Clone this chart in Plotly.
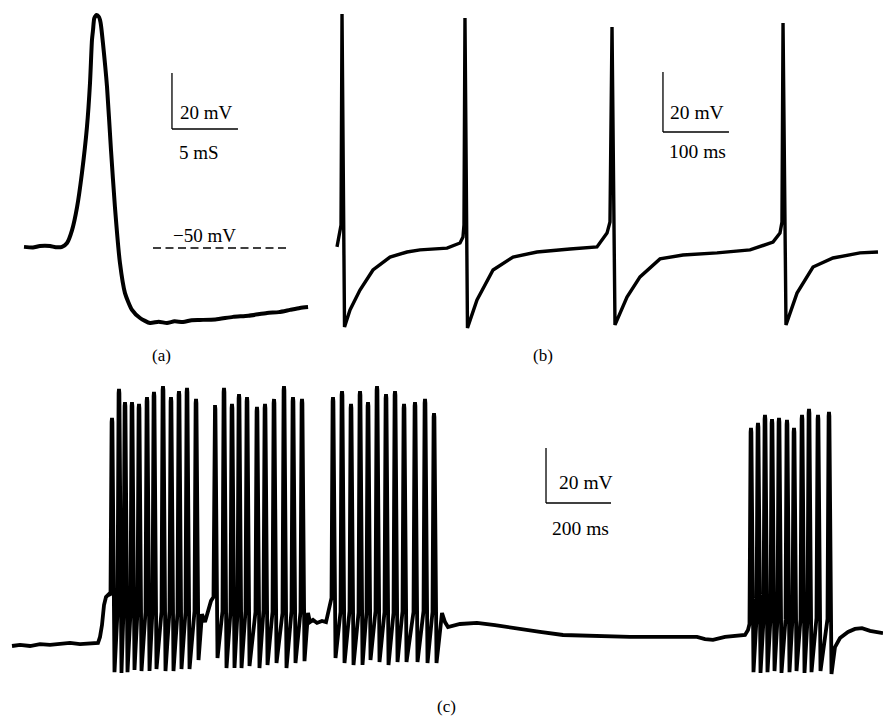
import plotly.graph_objects as go

W, H = 883, 719

# ---------------- Panel (a): single action potential (ms, mV) ----------------
a_time = [0, 0.68, 1.2, 1.97, 2.4, 2.88, 3.26, 3.64, 4.02, 4.39, 4.77, 5.0, 5.15, 5.23,
          5.33, 5.51, 5.68, 5.76, 5.83, 5.98, 6.29, 6.59, 6.89, 7.27, 7.65, 8.18,
          8.79, 9.55, 10.2, 10.83, 11.4, 12.05, 12.7, 13.33, 14.5, 15.83, 17.0,
          18.41, 19.3, 20.15, 20.9, 21.52]
a_volt = [-49.6, -49.8, -49.3, -49.3, -49.7, -49.6, -48.2, -43.6, -35.4, -23.2, -6.8,
          8.9, 24.3, 27.9, 32.1, 33.2, 32.5, 31.4, 29.6, 23.2, 7.5, -15.0, -35.4,
          -55.4, -66.1, -72.1, -75.0, -76.8, -76.3, -76.8, -76.2, -76.4, -75.8,
          -75.7, -75.5, -74.6, -74.2, -73.2, -72.9, -72.1, -71.4, -71.1]

# ---------------- Panel (b): repetitive firing (ms, mV) ----------------
b_time = [0, 3.0, 6.1, 7.6, 11.4, 19.7, 34.8, 54.5, 80.3, 106.1, 125.8, 166.7, 186.4,
          190.9, 192.4, 193.9, 197.7, 212.1, 236.4, 266.7, 303.0, 353.0, 393.9,
          409.1, 413.6, 416.7, 421.2, 439.4, 459.1, 489.4, 524.2, 575.8, 625.8,
          660.6, 671.2, 674.2, 675.8, 680.3, 697.0, 721.2, 751.5, 792.4, 819.7]
b_volt = [-48.3, -44.7, -41.0, 29.3, -75.0, -69.3, -62.7, -56.0, -51.7, -50.0, -49.3,
          -48.7, -47.0, -45.0, -41.0, 28.0, -75.3, -66.0, -56.0, -51.7, -50.0, -49.0,
          -48.3, -43.7, -40.0, 25.0, -74.3, -65.0, -58.3, -52.3, -51.0, -50.3, -49.3,
          -46.7, -43.7, -40.0, 26.3, -74.3, -63.7, -55.0, -52.0, -50.3, -50.0]

# ---------------- Panel (c): bursting (ms, mV) ----------------
burst_times = [
    [307.7, 329.2, 347.7, 369.2, 390.8, 415.4, 436.9, 464.6, 489.2, 513.8, 538.5, 566.2],
    [624.6, 652.3, 676.9, 698.5, 723.1, 753.8, 778.5, 806.2, 836.9, 864.6, 892.3],
    [987.7, 1015.4, 1043.1, 1070.8, 1095.4, 1123.1, 1150.8, 1178.5, 1206.2, 1240.0, 1270.8, 1298.5],
    [2273.8, 2295.4, 2316.9, 2338.5, 2360.0, 2384.6, 2406.2, 2430.8, 2452.3, 2480.0, 2513.8],
]
burst_peaks = [
    [22.9, 33.5, 28.7, 28.7, 28.0, 30.5, 32.4, 34.5, 30.5, 32.7, 33.8, 29.8],
    [27.6, 33.8, 28.0, 31.6, 30.5, 26.9, 28.0, 29.8, 34.5, 30.5, 29.8],
    [30.5, 32.7, 28.0, 32.7, 28.7, 34.5, 31.6, 32.7, 28.0, 28.7, 29.8, 24.7],
    [19.3, 21.1, 24.0, 22.5, 22.9, 22.2, 19.3, 24.0, 26.2, 24.0, 25.1],
]
burst_troughs = [
    [-69.5, -69.8, -69.5, -68.7, -69.1, -69.1, -68.4, -69.1, -69.1, -68.4, -68.4, -65.1],
    [-64.4, -68.0, -68.0, -68.0, -67.3, -68.0, -66.9, -66.2, -68.0, -66.2, -65.5],
    [-64.4, -66.2, -66.9, -66.9, -65.1, -65.8, -66.9, -65.8, -65.8, -65.8, -66.2, -66.2],
    [-69.5, -69.8, -69.5, -69.1, -69.8, -69.5, -69.1, -69.8, -69.5, -69.1, -70.2],
]
burst_pre = [
    [-41.5, -47.6, -47.0, -48.0, -47.3, -47.6, -46.9, -47.6, -47.3, -48.0, -47.6, -47.3],
    [-42.2, -47.3, -47.6, -48.0, -47.3, -47.6, -46.9, -47.6, -48.0, -47.3, -47.6],
    [-42.5, -47.6, -47.3, -48.0, -47.6, -47.3, -47.6, -48.0, -47.3, -47.6, -47.3, -47.6],
    [-52.0, -50.2, -50.5, -49.8, -50.2, -50.5, -49.8, -50.2, -50.5, -49.8, -50.2],
]
seg_times = [
    [0, 24.6, 55.4, 86.2, 116.9, 147.7, 178.5, 209.2, 240.0, 264.6, 270.8, 276.9, 283.1, 289.2, 298.5],
    [584.6, 593.8, 603.1, 612.3],
    [910.8, 916.9, 926.2, 938.5, 953.8, 966.2, 975.4, 981.5],
    [1316.9, 1323.1, 1332.3, 1341.5, 1378.5, 1430.8, 1486.2, 1541.5, 1624.6, 1695.4, 1809.2,
     1901.5, 1993.8, 2107.7, 2132.3, 2156.9, 2193.8, 2255.4, 2264.6],
    [2532.3, 2547.7, 2572.3, 2593.8, 2615.4, 2640.0, 2661.5, 2680.0],
]
seg_volts = [
    [-60.0, -59.6, -60.0, -59.3, -59.6, -59.3, -58.9, -59.3, -58.9, -58.9, -56.7, -52.4, -45.1, -42.2, -41.1],
    [-48.4, -51.3, -47.6, -43.6],
    [-48.0, -51.3, -50.5, -51.6, -50.9, -51.3, -46.9, -43.3],
    [-52.4, -48.0, -51.3, -53.1, -52.0, -51.6, -52.4, -53.5, -54.9, -56.0, -56.4,
     -56.7, -56.7, -56.7, -57.5, -57.8, -56.7, -56.0, -54.2],
    [-60.4, -57.1, -54.9, -53.8, -53.5, -54.5, -54.9, -55.3],
]

# spike stroke shape (ms offsets of upstroke start / trough from peak)
RISE_MS, FALL_MS = 4.6, 7.7

c_time, c_volt = [], []
for k in range(5):
    c_time += seg_times[k]
    c_volt += seg_volts[k]
    if k < 4:
        for t, pk, tr, pre in zip(burst_times[k], burst_peaks[k], burst_troughs[k], burst_pre[k]):
            c_time += [t - RISE_MS, t - 1.2, t, t + 1.2, t + FALL_MS]
            c_volt += [pre, pk - 1.5, pk, pk - 1.5, tr]

# ---------------- panel geometry (pixels) ----------------
panels = {
    "a": dict(box=(0, 320, 0, 335), t0=24, sx=13.2, vref=-50, vpx=248, sy=2.8),
    "b": dict(box=(320, 883, 0, 335), t0=337, sx=0.66, vref=-75, vpx=327, sy=3.0),
    "c": dict(box=(0, 883, 375, 680), t0=12, sx=0.325, vref=-60, vpx=646, sy=2.75),
}


def ranges(p):
    x0, x1, y0, y1 = p["box"]
    xr = [(x0 - p["t0"]) / p["sx"], (x1 - p["t0"]) / p["sx"]]
    yr = [p["vref"] - (y1 - p["vpx"]) / p["sy"], p["vref"] - (y0 - p["vpx"]) / p["sy"]]
    dom_x = [x0 / W, x1 / W]
    dom_y = [1 - y1 / H, 1 - y0 / H]
    return xr, yr, dom_x, dom_y


fig = go.Figure()
line_w = {"a": 4.0, "b": 3.4, "c": 3.8}
shape_ = {"a": "spline", "b": "linear", "c": "linear"}
data = {"a": (a_time, a_volt), "b": (b_time, b_volt), "c": (c_time, c_volt)}
axnames = {"a": ("x", "y"), "b": ("x2", "y2"), "c": ("x3", "y3")}

for key in ["a", "b", "c"]:
    xs, ys = data[key]
    xa, ya = axnames[key]
    ln = dict(color="black", width=line_w[key], shape=shape_[key])
    if shape_[key] == "spline":
        ln["smoothing"] = 0.6
    fig.add_trace(go.Scatter(x=xs, y=ys, mode="lines", xaxis=xa, yaxis=ya,
                             line=ln, hoverinfo="skip", showlegend=False))

layout_axes = {}
for key, (xa, ya) in axnames.items():
    xr, yr, dx, dy = ranges(panels[key])
    xname = "xaxis" if xa == "x" else "xaxis" + xa[1:]
    yname = "yaxis" if ya == "y" else "yaxis" + ya[1:]
    layout_axes[xname] = dict(domain=dx, range=xr, visible=False, anchor=ya, fixedrange=True)
    layout_axes[yname] = dict(domain=dy, range=yr, visible=False, anchor=xa, fixedrange=True)

# scale bars: (panel, t_corner, v_bottom, dt, dv)
scale_bars = [("a", 11.21, -7.5, 5, 20), ("b", 493.9, -10, 100, 20), ("c", 1643.1, -8, 200, 20)]
shapes = []
for key, tc, vb, dt, dv in scale_bars:
    xa, ya = axnames[key]
    shapes.append(dict(type="line", xref=xa, yref=ya, x0=tc, x1=tc, y0=vb, y1=vb + dv,
                       line=dict(color="black", width=1.3)))
    shapes.append(dict(type="line", xref=xa, yref=ya, x0=tc, x1=tc + dt, y0=vb, y1=vb,
                       line=dict(color="black", width=1.3)))
# -50 mV reference line in panel (a)
shapes.append(dict(type="line", xref="x", yref="y", x0=(153 - 24) / 13.2, x1=(290 - 24) / 13.2,
                   y0=-50, y1=-50, line=dict(color="black", width=1.4, dash="8px,4.5px")))

SERIF = "Liberation Serif, Times New Roman, serif"
texts = [
    ("20 mV", 206, 113, 19), ("5 mS", 199, 153, 19), ("\u221250 mV", 204, 235, 19),
    ("20 mV", 697, 113, 19.5), ("100 ms", 697, 152, 19.5),
    ("20 mV", 586, 482, 19.5), ("200 ms", 580, 528, 19.5),
    ("(a)", 161, 356, 17), ("(b)", 543, 356, 17), ("(c)", 447, 706, 17),
]
annotations = [dict(text=t, x=px / W, y=1 - py / H, xref="paper", yref="paper",
                    xanchor="center", yanchor="middle", showarrow=False,
                    font=dict(family=SERIF, size=sz, color="black"))
               for t, px, py, sz in texts]

fig.update_layout(width=W, height=H, margin=dict(l=0, r=0, t=0, b=0),
                  paper_bgcolor="white", plot_bgcolor="white",
                  shapes=shapes, annotations=annotations, **layout_axes)

fig.write_html("out.html", config={"displayModeBar": False, "staticPlot": True},
               post_script="document.body.style.margin='0';document.body.style.overflow='hidden';")
